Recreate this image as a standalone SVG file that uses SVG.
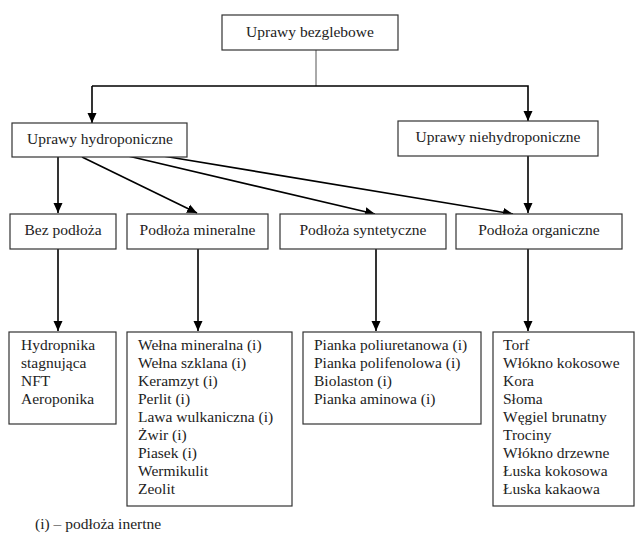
<svg xmlns="http://www.w3.org/2000/svg" width="635" height="533" viewBox="0 0 635 533" font-family="Liberation Serif, Times New Roman, DejaVu Serif, serif" font-size="15.5">
<style>
.box{fill:#fff;stroke:#333;stroke-width:1.2}
text{font-family:Liberation Serif,Times New Roman,DejaVu Serif,serif;font-size:15.5px;fill:#222}
.c{text-anchor:middle}
.ln{stroke:#000;stroke-width:1.6;fill:none}
.thin{stroke:#555;stroke-width:1;fill:none}
</style>
<defs>
<marker id="ah" viewBox="0 0 10 10" refX="10" refY="5" markerWidth="10" markerHeight="10" markerUnits="userSpaceOnUse" orient="auto">
<path d="M0,0.5 L10,5 L0,9.5 Z" fill="#000"/>
</marker>
</defs>
<rect width="635" height="533" fill="#fff"/>
<g id="connectors">
<line class="thin" x1="316" y1="50" x2="316" y2="86"/>
<polyline class="ln" points="92,86 528,86 528,121" marker-end="url(#ah)"/>
<line class="ln" x1="92" y1="86" x2="92" y2="123" marker-end="url(#ah)"/>
<line class="ln" x1="58" y1="157" x2="58" y2="213" marker-end="url(#ah)"/>
<line class="ln" x1="82" y1="157" x2="197" y2="213" marker-end="url(#ah)"/>
<line class="ln" x1="128" y1="156" x2="375" y2="214" marker-end="url(#ah)"/>
<line class="ln" x1="163" y1="156" x2="513" y2="214" marker-end="url(#ah)"/>
<line class="ln" x1="528" y1="156" x2="528" y2="213" marker-end="url(#ah)"/>
<line class="ln" x1="58" y1="249" x2="58" y2="331" marker-end="url(#ah)"/>
<line class="ln" x1="198" y1="249" x2="198" y2="331" marker-end="url(#ah)"/>
<line class="ln" x1="376" y1="249" x2="376" y2="331" marker-end="url(#ah)"/>
<line class="ln" x1="528" y1="249" x2="528" y2="331" marker-end="url(#ah)"/>
</g>
<g id="n-root"><rect class="box" x="222" y="15" width="176" height="35"/><text class="c" x="310" y="37">Uprawy bezglebowe</text></g>
<g id="n-hydro"><rect class="box" x="12" y="123" width="175" height="34"/><text class="c" x="100" y="144">Uprawy hydroponiczne</text></g>
<g id="n-niehydro"><rect class="box" x="398" y="121" width="200" height="35"/><text class="c" x="498" y="142">Uprawy niehydroponiczne</text></g>
<g id="n-bez"><rect class="box" x="10" y="214" width="106" height="35"/><text class="c" x="63" y="235">Bez podłoża</text></g>
<g id="n-mineralne"><rect class="box" x="127" y="214" width="141" height="35"/><text class="c" x="197.5" y="235">Podłoża mineralne</text></g>
<g id="n-syntetyczne"><rect class="box" x="280" y="214" width="166" height="35"/><text class="c" x="363" y="235">Podłoża syntetyczne</text></g>
<g id="n-organiczne"><rect class="box" x="456" y="214" width="166" height="35"/><text class="c" x="539" y="235">Podłoża organiczne</text></g>
<g id="n-list-bez"><rect class="box" x="9" y="332" width="107" height="92"/>
<text x="21" y="350">Hydropnika</text>
<text x="21" y="368">stagnująca</text>
<text x="21" y="386">NFT</text>
<text x="21" y="404">Aeroponika</text>
</g>
<g id="n-list-mineralne"><rect class="box" x="127" y="332" width="165" height="174"/>
<text x="138" y="350">Wełna mineralna (i)</text>
<text x="138" y="368">Wełna szklana (i)</text>
<text x="138" y="386">Keramzyt (i)</text>
<text x="138" y="404">Perlit (i)</text>
<text x="138" y="422">Lawa wulkaniczna (i)</text>
<text x="138" y="440">Żwir (i)</text>
<text x="138" y="458">Piasek (i)</text>
<text x="138" y="476">Wermikulit</text>
<text x="138" y="494">Zeolit</text>
</g>
<g id="n-list-syntetyczne"><rect class="box" x="303" y="332" width="178" height="92"/>
<text x="314" y="350">Pianka poliuretanowa (i)</text>
<text x="314" y="368">Pianka polifenolowa (i)</text>
<text x="314" y="386">Biolaston (i)</text>
<text x="314" y="404">Pianka aminowa (i)</text>
</g>
<g id="n-list-organiczne"><rect class="box" x="493" y="332" width="141" height="174"/>
<text x="503" y="350">Torf</text>
<text x="503" y="368">Włókno kokosowe</text>
<text x="503" y="386">Kora</text>
<text x="503" y="404">Słoma</text>
<text x="503" y="422">Węgiel brunatny</text>
<text x="503" y="440">Trociny</text>
<text x="503" y="458">Włókno drzewne</text>
<text x="503" y="476">Łuska kokosowa</text>
<text x="503" y="494">Łuska kakaowa</text>
</g>
<text x="35" y="529">(i) – podłoża inertne</text>
</svg>
